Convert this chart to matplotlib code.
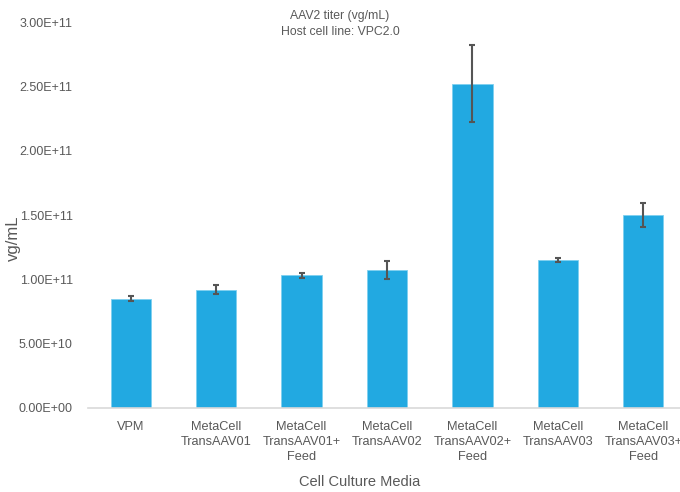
import numpy as np
import matplotlib
matplotlib.use("Agg")
from matplotlib import pyplot as plt
from matplotlib.ticker import FuncFormatter

categories = ['VPM', 'MetaCell\nTransAAV01', 'MetaCell\nTransAAV01+\nFeed',
              'MetaCell\nTransAAV02', 'MetaCell\nTransAAV02+\nFeed',
              'MetaCell\nTransAAV03', 'MetaCell\nTransAAV03+\nFeed']
titer = [8.5e10, 9.2e10, 1.03e11, 1.075e11, 2.52e11, 1.15e11, 1.50e11]
titer_err = [0.2e10, 0.34e10, 0.17e10, 0.7e10, 3.0e10, 0.15e10, 0.9e10]
yticks = [0, 5e10, 1e11, 1.5e11, 2e11, 2.5e11, 3e11]

text_grey = '#595959'
bar_blue = '#22A9E1'

plt.rcParams['font.family'] = ['Liberation Sans', 'DejaVu Sans']

fig = plt.figure(figsize=(6.8, 4.92), dpi=100)
ax = fig.add_axes([88 / 680, 1 - 408 / 492, 598 / 680, 386 / 492])

x = np.arange(len(categories))
ax.bar(x, titer, width=0.47, color=bar_blue, edgecolor='#7FD0F0', linewidth=0.6, zorder=2)
ax.errorbar(x, titer, yerr=titer_err, fmt='none', ecolor='#555555',
            elinewidth=1.5, capsize=2.5, capthick=1.5, zorder=3)

ax.set_xlim(-0.5, len(categories) - 0.5)
ax.set_ylim(0, 3e11)
ax.set_yticks(yticks)
ax.yaxis.set_major_formatter(FuncFormatter(lambda v, p: '{:.2E}'.format(v)))
ax.set_xticks(x)
ax.set_xticklabels(categories, fontsize=9.2, color=text_grey, linespacing=1.38)
ax.tick_params(axis='y', labelsize=9, colors=text_grey, length=0, pad=11)
ax.tick_params(axis='x', length=0, pad=9)

for side in ['top', 'right', 'left']:
    ax.spines[side].set_visible(False)
ax.spines['bottom'].set_color('#D9D9D9')
ax.spines['bottom'].set_linewidth(1.2)

ax.set_ylabel('vg/mL', fontsize=12, color=text_grey)
ax.yaxis.set_label_coords((13 - 88) / 598, (408 - 238) / 386)
ax.yaxis.label.set_va('center')
ax.set_xlabel('Cell Culture Media', fontsize=10.5, color=text_grey)
ax.xaxis.set_label_coords((360 - 88) / 598, -(482 - 408) / 386)
ax.xaxis.label.set_va('center')

fig.text(340 / 680, 1 - 10 / 492, 'AAV2 titer (vg/mL)\nHost cell line: VPC2.0',
         ha='center', va='top', fontsize=8.8, color=text_grey, linespacing=1.45)

plt.savefig('out.png', dpi=100)
